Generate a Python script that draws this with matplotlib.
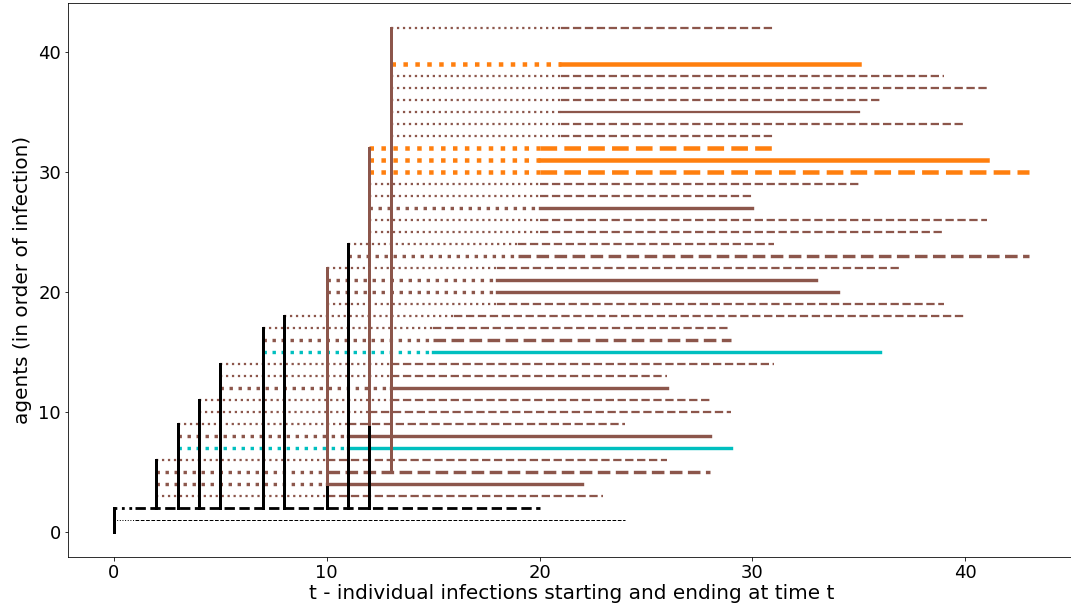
import matplotlib
matplotlib.use("Agg")
import matplotlib.pyplot as plt

# agents (row on the y axis) - agents 40 and 41 have no line in the picture
agents = [1, 2, 3, 4, 5, 6, 7, 8, 9, 10, 11, 12, 13, 14, 15, 16, 17, 18, 19, 20,
          21, 22, 23, 24, 25, 26, 27, 28, 29, 30, 31, 32, 33, 34, 35, 36, 37, 38, 39, 42]
# time of infection
t_infected = [0, 0, 2, 2, 2, 2, 3, 3, 3, 4, 4, 5, 5, 5, 7, 7, 7, 8, 10, 10,
              10, 10, 11, 11, 12, 12, 12, 12, 12, 12, 12, 12, 13, 13, 13, 13, 13, 13, 13, 13]
# time the agent becomes infectious (end of dotted part)
t_infectious = [1, 1, 10, 10, 10, 10, 11, 11, 11, 12, 13, 13, 13, 13, 15, 15, 15, 16, 18, 18,
                18, 18, 19, 19, 20, 20, 20, 20, 20, 20, 20, 20, 21, 21, 21, 21, 21, 21, 21, 21]
# time of recovery
t_recovered = [24, 20, 23, 22, 28, 26, 29, 28, 24, 29, 28, 26, 26, 31, 36, 29, 29, 40, 39, 34,
               33, 37, 43, 31, 39, 41, 30, 30, 35, 43, 41, 31, 31, 40, 35, 36, 41, 39, 35, 31]
# 's' solid / 'd' dashed infectious period
kind = ['d', 'd', 'd', 's', 'd', 'd', 's', 's', 'd', 'd', 'd', 's', 'd', 'd', 's', 'd', 'd', 'd', 'd', 's',
        's', 'd', 'd', 'd', 'd', 'd', 's', 'd', 'd', 'd', 's', 'd', 'd', 'd', 's', 'd', 'd', 'd', 's', 'd']
# group: k = initial, b/B = brown thin/thick, c = cyan, o = orange
group = ['g', 'k', 'b', 'B', 'B', 'b', 'c', 'B', 'b', 'b', 'b', 'B', 'b', 'b', 'c', 'B', 'b', 'b', 'b', 'B',
         'B', 'b', 'B', 'b', 'b', 'b', 'B', 'b', 'b', 'o', 'o', 'o', 'b', 'b', 'b', 'b', 'b', 'b', 'o', 'b']

# who infected whom
infector = [0, 0, 2, 2, 2, 2, 2, 2, 2, 2, 2, 2, 2, 2, 2, 2, 2, 2, 2, 4,
            4, 4, 2, 2, 2, 9, 9, 9, 9, 9, 9, 9, 5, 5, 5, 5, 5, 5, 5, 5]

colors = {'g': 'k', 'k': 'k', 'b': '#8c564b', 'B': '#8c564b', 'c': 'c', 'o': '#ff7f0e'}
widths = {'g': 1.0, 'k': 2.8, 'b': 2.25, 'B': 3.4, 'c': 3.4, 'o': 4.5}
agent_color = {0: 'k'}
for a, g in zip(agents, group):
    agent_color[a] = colors[g]

W, H = 1071, 614
fig = plt.figure(figsize=(W / 72, H / 72), dpi=72)
ax = fig.add_axes([68 / W, (H - 557) / H, (1075 - 68) / W, (557 - 3) / H])

for i, a in enumerate(agents):
    c = colors[group[i]]
    lw = widths[group[i]]
    ax.plot([t_infected[i], t_infectious[i]], [a, a], ls=':', c=c, lw=lw)
    ls = '-' if kind[i] == 's' else '--'
    ax.plot([t_infectious[i], t_recovered[i]], [a, a], ls=ls, c=c, lw=lw)

# vertical infection lines: from infector up to highest infected agent
events = {}
for i, a in enumerate(agents):
    key = (t_infected[i], infector[i])
    events[key] = max(events.get(key, a), a)
for (t, src), top in sorted(events.items(), key=lambda e: e[0][1]):
    ax.plot([t, t], [src, top], c=agent_color[src], lw=3)

ax.set_xlim(-2.15, 45.15)
ax.set_ylim(-2.1, 44.1)
ax.set_xticks([0, 10, 20, 30, 40])
ax.set_yticks([0, 10, 20, 30, 40])
ax.tick_params(labelsize=18)
ax.set_xlabel("t - individual infections starting and ending at time t", fontsize=20, labelpad=2)
ax.set_ylabel("agents (in order of infection)", fontsize=20, labelpad=6)

fig.savefig("out.png", dpi=72)
